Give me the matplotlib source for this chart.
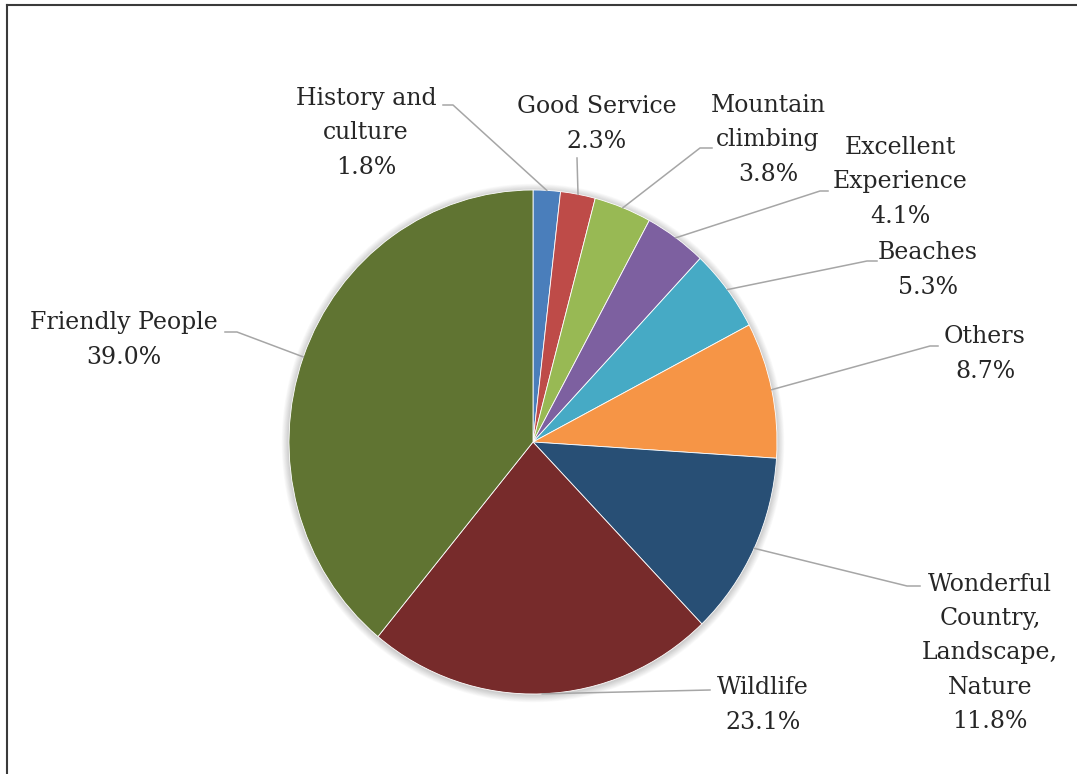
import matplotlib
matplotlib.use("Agg")
import numpy as np
import matplotlib.pyplot as plt
from matplotlib.patches import Ellipse
from matplotlib.lines import Line2D

# data (clockwise from 12 o'clock)
categories = ["History and\nculture", "Good Service", "Mountain\nclimbing",
              "Excellent\nExperience", "Beaches", "Others",
              "Wonderful\nCountry,\nLandscape,\nNature", "Wildlife",
              "Friendly People"]
shares = [1.8, 2.3, 3.8, 4.1, 5.3, 8.7, 11.8, 23.1, 39.0]

colors = ["#4A7EBB", "#BE4B48", "#98B954", "#7D60A0", "#46AAC5",
          "#F69546", "#284F75", "#772B2B", "#607432"]

W, H = 1077, 774
fig = plt.figure(figsize=(W / 100, H / 100), dpi=100)
fig.patch.set_facecolor("white")

# pie box in pixels (centre and radii)
cx, cy, rx, ry = 533, 442, 244, 252
ax = fig.add_axes([(cx - rx) / W, 1 - (cy + ry) / H, 2 * rx / W, 2 * ry / H])

# soft shadow behind the pie
for i in range(10):
    d = 0.003 * (i + 1)
    ax.add_patch(Ellipse((0, -0.004), 2 * (1 + d), 2 * (1 + d * rx / ry),
                         facecolor="black", edgecolor="none", alpha=0.018,
                         zorder=0, clip_on=False))

wedges, _ = ax.pie(shares, colors=colors, startangle=90, counterclock=False,
                   radius=1, wedgeprops=dict(edgecolor="white", linewidth=0.6))
for w in wedges:
    w.set_zorder(2)
ax.set_aspect("auto")
ax.set_xlim(-1, 1)
ax.set_ylim(-1, 1)


def px(x, y):
    return (x - cx) / rx, (cy - y) / ry


# label centres and leader-line points on the label side (pixels)
label_pos = [(366, 133), (597, 124), (768, 140), (900, 182), (928, 270),
             (985, 354), (990, 653), (763, 705), (124, 340)]
leader_pts = [[(453, 105), (443, 105)],
              [(577, 158)],
              [(700, 148), (712, 148)],
              [(820, 191), (828, 191)],
              [(867, 261), (877, 261)],
              [(930, 346), (938, 346)],
              [(907, 586), (920, 586)],
              [(710, 690)],
              [(237, 332), (225, 332)]]

for w, name, v, pos, pts in zip(wedges, categories, shares, label_pos, leader_pts):
    mid = np.deg2rad((w.theta1 + w.theta2) / 2)
    xs = [np.cos(mid)] + [px(*p)[0] for p in pts]
    ys = [np.sin(mid)] + [px(*p)[1] for p in pts]
    ax.plot(xs, ys, color="#A6A6A6", lw=1.1, zorder=3, clip_on=False)
    tx, ty = px(*pos)
    ax.text(tx, ty, f"{name}\n{v:.1f}%", ha="center", va="center",
            multialignment="center", fontsize=17, family="DejaVu Serif",
            color="#262626", linespacing=1.62, clip_on=False)

# frame (left and top edges visible)
fig.add_artist(Line2D([7 / W, 7 / W], [0, 1 - 5 / H], transform=fig.transFigure,
                      color="#3A3A3A", lw=1.5))
fig.add_artist(Line2D([7 / W, 1], [1 - 5 / H, 1 - 5 / H], transform=fig.transFigure,
                      color="#3A3A3A", lw=1.5))

plt.savefig("out.png", dpi=100, facecolor=fig.get_facecolor())
